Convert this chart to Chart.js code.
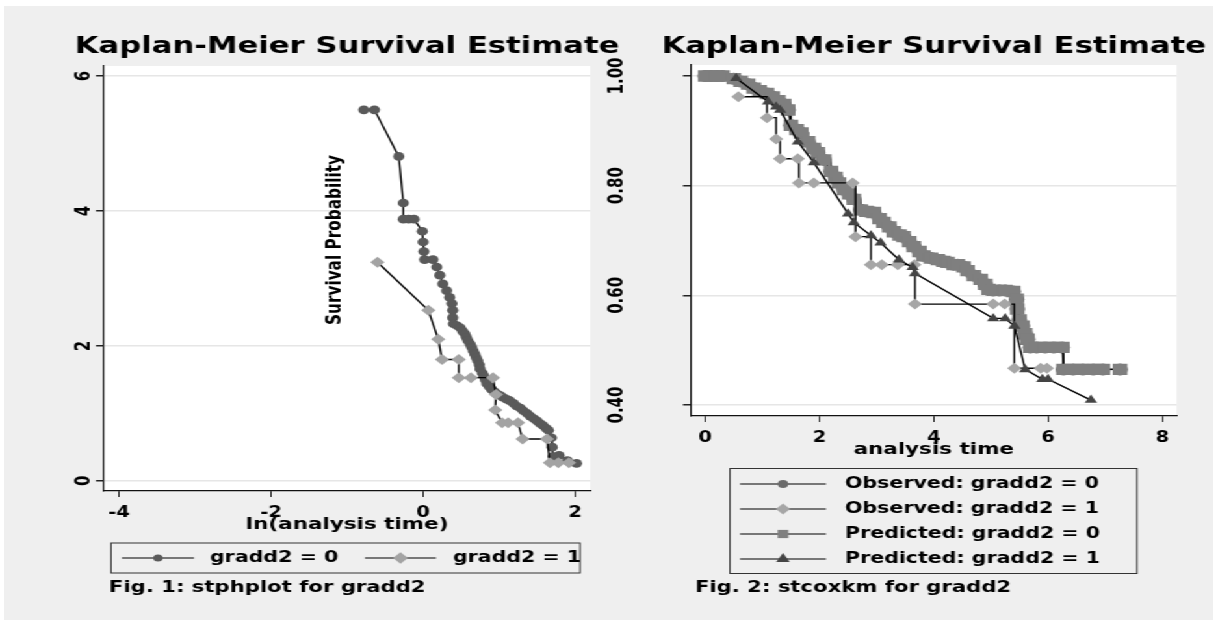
<!DOCTYPE html>
<html>
<head>
<meta charset="utf-8">
<script src="https://cdn.jsdelivr.net/npm/chart.js@4/dist/chart.umd.min.js"></script>
<style>
  html, body { margin: 0; padding: 0; background: #fff; }
  #bg { position: absolute; left: 4px; top: 6px; width: 1209px; height: 614px; background: #efefef; }
  /* the original export is stretched sideways, so the charts are drawn narrow and widened */
  #wrap { position: absolute; left: 0; top: 0; width: 937px; height: 627px; transform-origin: 0 0; transform: scaleX(1.29989); }
  canvas { position: absolute; left: 0; top: 0; }
</style>
</head>
<body>
<div id="bg"></div>
<div id="wrap">
  <canvas id="ph" width="937" height="627"></canvas>
  <canvas id="km" width="937" height="627"></canvas>
</div>
<script>
// ---- Fig. 1: stphplot (-ln(-ln S) against ln t) ----
const phX0 = [-0.78, -0.64, -0.32, -0.26, -0.26, -0.19, -0.12, -0.01, 0.00, 0.01, 0.02, 0.13, 0.18, 0.22, 0.26, 0.31,
  0.35, 0.38, 0.39, 0.39, 0.40, 0.45, 0.49, 0.52, 0.55, 0.57, 0.59, 0.62, 0.64, 0.66, 0.68, 0.70, 0.72, 0.74, 0.75,
  0.78, 0.80, 0.82, 0.84, 0.87, 0.90, 0.94, 0.97, 1.01, 1.05, 1.10, 1.14, 1.19, 1.23, 1.28, 1.32, 1.37, 1.41, 1.46,
  1.50, 1.54, 1.58, 1.62, 1.65, 1.69, 1.70, 1.71, 1.79, 1.90, 2.02];
const phY0 = [5.50, 5.50, 4.81, 4.12, 3.88, 3.88, 3.88, 3.70, 3.54, 3.40, 3.28, 3.28, 3.17, 3.05, 2.92, 2.82,
  2.72, 2.63, 2.53, 2.42, 2.33, 2.30, 2.27, 2.22, 2.18, 2.13, 2.08, 2.03, 1.98, 1.93, 1.88, 1.83, 1.78, 1.72, 1.66,
  1.60, 1.55, 1.50, 1.44, 1.40, 1.36, 1.32, 1.29, 1.27, 1.24, 1.21, 1.19, 1.15, 1.11, 1.08, 1.04, 1.00, 0.96, 0.92,
  0.89, 0.85, 0.82, 0.78, 0.75, 0.64, 0.50, 0.36, 0.38, 0.30, 0.26];
const phX1 = [-0.60, 0.07, 0.20, 0.25, 0.47, 0.47, 0.63, 0.92, 0.96, 0.95, 1.04, 1.12, 1.25, 1.31, 1.63, 1.67, 1.78, 1.92];
const phY1 = [3.24, 2.53, 2.10, 1.80, 1.80, 1.53, 1.53, 1.53, 1.28, 1.05, 0.86, 0.86, 0.86, 0.62, 0.62, 0.27, 0.27, 0.27];
const phXTicks = [-4, -2, 0, 2];
const phYTicks = [0, 2, 4, 6];

// ---- Fig. 2: stcoxkm, observed vs predicted survival ----
const obs0T = [0.00, 0.10, 0.20, 0.30, 0.50, 0.62, 0.75, 0.85, 0.95, 1.08, 1.18, 1.28, 1.38, 1.45, 1.50, 1.60, 1.68,
  1.80, 1.90, 1.97, 2.08, 2.20, 2.28, 2.34, 2.43, 2.52, 2.60, 2.72, 2.82, 2.95, 3.05, 3.12, 3.22, 3.30, 3.40, 3.47,
  3.57, 3.65, 3.75, 3.82, 3.95, 4.07, 4.17, 4.24, 4.35, 4.42, 4.52, 4.59, 4.70, 4.82, 4.90, 4.96, 5.04, 5.15, 5.25,
  5.39, 5.45, 5.46, 5.50, 5.55, 5.60, 5.64, 5.69, 5.80, 5.95, 6.10, 6.25, 6.27, 6.44, 6.61, 6.79, 6.96, 7.26];
const obs0S = [1.000, 1.000, 1.000, 1.000, 0.995, 0.990, 0.985, 0.978, 0.973, 0.968, 0.962, 0.955, 0.948, 0.938, 0.910,
  0.902, 0.896, 0.880, 0.868, 0.860, 0.847, 0.826, 0.815, 0.805, 0.793, 0.785, 0.775, 0.756, 0.753, 0.751, 0.740,
  0.733, 0.725, 0.716, 0.710, 0.707, 0.698, 0.689, 0.680, 0.672, 0.668, 0.665, 0.662, 0.660, 0.656, 0.656, 0.652,
  0.645, 0.636, 0.629, 0.620, 0.611, 0.609, 0.609, 0.609, 0.607, 0.593, 0.575, 0.555, 0.544, 0.530, 0.520, 0.505,
  0.505, 0.505, 0.505, 0.505, 0.465, 0.465, 0.465, 0.465, 0.465, 0.465];
const obs1T = [0.58, 1.08, 1.24, 1.31, 1.62, 1.64, 1.90, 2.58, 2.63, 2.90, 3.09, 3.37, 3.66, 3.67, 5.04, 5.24, 5.41, 5.87, 5.98];
const obs1S = [0.962, 0.924, 0.885, 0.849, 0.849, 0.805, 0.805, 0.805, 0.707, 0.656, 0.656, 0.656, 0.656, 0.584, 0.584,
  0.584, 0.467, 0.467, 0.467];
const pred0T = obs0T;
const pred0S = obs0S;
const pred1T = [0.54, 1.10, 1.24, 1.31, 1.62, 1.90, 2.50, 2.60, 2.90, 3.07, 3.39, 3.63, 3.67, 5.04, 5.25, 5.41, 5.60, 5.90, 6.00, 6.75];
const pred1S = [0.996, 0.953, 0.944, 0.938, 0.880, 0.842, 0.749, 0.733, 0.709, 0.696, 0.665, 0.651, 0.640, 0.558, 0.558,
  0.544, 0.465, 0.447, 0.447, 0.409];
const kmXTicks = [0, 2, 4, 6, 8];
const kmYTicks = [0.40, 0.60, 0.80, 1.00];

const SX = 1218 / 937;          // horizontal stretch of the page
const cx = v => v / SX;         // page x -> canvas x
const FONT = "'DejaVu Sans'";
Chart.defaults.font.family = FONT;
Chart.defaults.font.weight = 'bold';
Chart.defaults.color = '#000';

const pts = (xs, ys) => xs.map((x, i) => ({ x: x, y: ys[i] }));

const decor = {
  id: 'decor',
  beforeDraw(chart) {
    const a = chart.chartArea, ctx = chart.ctx;
    ctx.save();
    ctx.fillStyle = '#fff';
    ctx.fillRect(a.left, a.top, a.right - a.left, a.bottom - a.top);
    ctx.restore();
  },
  afterDraw(chart, args, o) {
    const a = chart.chartArea, ctx = chart.ctx;
    ctx.save();
    ctx.fillStyle = '#000';
    ctx.textBaseline = 'middle';
    ctx.textAlign = 'center';
    ctx.font = 'bold 23.6px ' + FONT;
    ctx.fillText(o.title, (a.left + a.right) / 2, 47);

    ctx.textAlign = 'left';
    ctx.font = 'bold 16.3px ' + FONT;
    ctx.fillText(o.caption, o.captionX, 588);

    const b = o.box;
    ctx.strokeStyle = '#333';
    ctx.lineWidth = 1;
    ctx.strokeRect(b[0], b[1], b[2] - b[0], b[3] - b[1]);
    ctx.font = 'bold 15.8px ' + FONT;
    o.entries.forEach(e => {
      const ds = chart.data.datasets[e.index];
      ctx.strokeStyle = '#000';
      ctx.lineWidth = 1.2;
      ctx.beginPath();
      ctx.moveTo(e.x0, e.y);
      ctx.lineTo(e.x1, e.y);
      ctx.stroke();
      ctx.fillStyle = ds.pointBackgroundColor;
      Chart.helpers.drawPoint(ctx, { pointStyle: ds.pointStyle, radius: e.r, rotation: 0, borderWidth: 0 },
        (e.x0 + e.x1) / 2, e.y);
      ctx.fillStyle = '#000';
      ctx.fillText(ds.label, e.tx, e.y);
    });

    if (o.inner) {
      ctx.translate(o.inner.x, o.inner.y);
      ctx.rotate(-Math.PI / 2);
      ctx.textAlign = 'center';
      ctx.font = 'bold 15.3px ' + FONT;
      ctx.fillText(o.inner.text, 0, 0);
    }
    ctx.restore();
  }
};

function axes(xr, yr, xt, yt, xTitle, yW, yPad, yFmt) {
  return {
    x: {
      type: 'linear', min: xr[0], max: xr[1],
      afterBuildTicks: s => { s.ticks = xt.map(v => ({ value: v })); },
      afterFit: s => { s.height = 45; },
      grid: { display: true, drawOnChartArea: false, drawTicks: true, tickLength: 6, tickColor: '#222' },
      border: { display: true, color: '#111', width: 1.2 },
      ticks: { padding: 7, font: { size: 15 }, color: '#000', minRotation: 0, maxRotation: 0, autoSkip: false },
      title: { display: true, text: xTitle, font: { size: 16.5 }, color: '#000', padding: { top: 0, bottom: 1 } }
    },
    y: {
      type: 'linear', min: yr[0], max: yr[1],
      afterBuildTicks: s => { s.ticks = yt.map(v => ({ value: v })); },
      afterFit: s => { s.width = yW; },
      grid: { color: '#e6e6e6', lineWidth: 1.5, tickColor: '#222', tickLength: 6.15 },
      border: { display: true, color: '#111', width: 1.2 },
      ticks: { padding: yPad, font: { size: 15 }, color: '#000', minRotation: 90, maxRotation: 90,
        crossAlign: 'center', autoSkip: false, callback: yFmt }
    }
  };
}

new Chart(document.getElementById('ph'), {
  type: 'scatter',
  data: {
    datasets: [
      { label: 'gradd2 = 0', data: pts(phX0, phY0), showLine: true, borderColor: '#000', borderWidth: 1.4,
        pointStyle: 'circle', pointRadius: 4.3, pointBackgroundColor: '#5a5a5a', pointBorderWidth: 0, order: 2 },
      { label: 'gradd2 = 1', data: pts(phX1, phY1), showLine: true, borderColor: '#000', borderWidth: 1.4,
        pointStyle: 'rectRot', pointRadius: 5.5, pointBackgroundColor: '#a3a3a3', pointBorderWidth: 0, order: 1 }
    ]
  },
  options: {
    responsive: false, animation: false, events: [],
    layout: { padding: { left: cx(104) - 45, right: 937 - cx(590.2), top: 66, bottom: 627 - 491 - 45 } },
    scales: axes([-4.2, 2.2], [-0.15, 6.15], phXTicks, phYTicks, 'ln(analysis time)', 45, 4, v => String(v)),
    plugins: {
      legend: { display: false }, tooltip: { enabled: false },
      decor: {
        title: 'Kaplan-Meier Survival Estimate',
        caption: 'Fig. 1: stphplot for gradd2', captionX: cx(109),
        box: [cx(111), 543, cx(580), 573],
        entries: [
          { index: 0, x0: cx(122), x1: cx(194), y: 558, r: 3.6, tx: cx(210) },
          { index: 1, x0: cx(365), x1: cx(436), y: 558, r: 5.8, tx: cx(453) }
        ],
        inner: { text: 'Survival Probability', x: cx(336), y: 240 }
      }
    }
  },
  plugins: [decor]
});

new Chart(document.getElementById('km'), {
  type: 'scatter',
  data: {
    datasets: [
      { label: 'Observed: gradd2 = 0', data: pts(obs0T, obs0S), showLine: true, stepped: 'before', borderColor: '#000',
        borderWidth: 1.4, pointStyle: 'circle', pointRadius: 6, pointBackgroundColor: '#6b6b6b', pointBorderWidth: 0, order: 4 },
      { label: 'Observed: gradd2 = 1', data: pts(obs1T, obs1S), showLine: true, stepped: 'before', borderColor: '#000',
        borderWidth: 1.4, pointStyle: 'rectRot', pointRadius: 5.5, pointBackgroundColor: '#a6a6a6', pointBorderWidth: 0, order: 2 },
      { label: 'Predicted: gradd2 = 0', data: pts(pred0T, pred0S), showLine: true, borderColor: '#000',
        borderWidth: 1.4, pointStyle: 'rect', pointRadius: 8, pointBackgroundColor: '#7f7f7f', pointBorderWidth: 0, order: 3 },
      { label: 'Predicted: gradd2 = 1', data: pts(pred1T, pred1S), showLine: true, borderColor: '#000',
        borderWidth: 1.4, pointStyle: 'triangle', pointRadius: 5.5, pointBackgroundColor: '#444444', pointBorderWidth: 0, order: 1 }
    ]
  },
  options: {
    responsive: false, animation: false, events: [],
    layout: { padding: { left: cx(691) - 75, right: 937 - cx(1176.6), top: 65, bottom: 627 - 416 - 45 } },
    scales: axes([-0.25, 8.25], [0.38, 1.02], kmXTicks, kmYTicks, 'analysis time', 75, 32, v => v.toFixed(2)),
    plugins: {
      legend: { display: false }, tooltip: { enabled: false },
      decor: {
        title: 'Kaplan-Meier Survival Estimate',
        caption: 'Fig. 2: stcoxkm for gradd2', captionX: cx(695),
        box: [cx(730), 468.5, cx(1137), 573.5],
        entries: [
          { index: 0, x0: cx(740), x1: cx(826), y: 484, r: 4, tx: cx(845) },
          { index: 1, x0: cx(740), x1: cx(826), y: 509, r: 5.5, tx: cx(845) },
          { index: 2, x0: cx(740), x1: cx(826), y: 534, r: 5.8, tx: cx(845) },
          { index: 3, x0: cx(740), x1: cx(826), y: 559, r: 6, tx: cx(845) }
        ]
      }
    }
  },
  plugins: [decor]
});
</script>
</body>
</html>
